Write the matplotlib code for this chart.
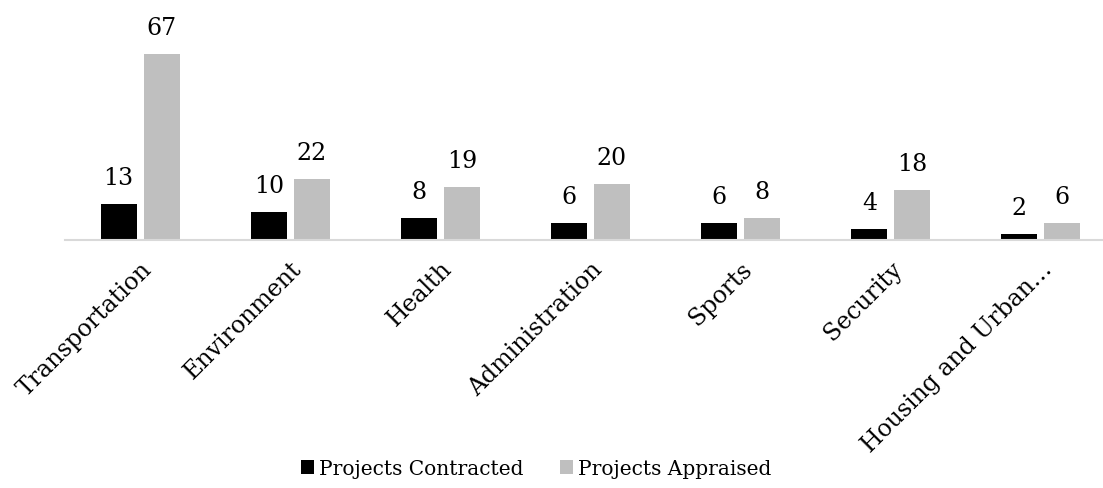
import matplotlib
matplotlib.use("Agg")
import matplotlib.pyplot as plt
import numpy as np

categories = ["Transportation", "Environment", "Health", "Administration",
              "Sports", "Security", "Housing and Urban\u2026"]
contracted = [13, 10, 8, 6, 6, 4, 2]
appraised = [67, 22, 19, 20, 8, 18, 6]

BLACK = "#000000"
GREY = "#bfbfbf"
plt.rcParams["font.family"] = ["DejaVu Serif"]

fig = plt.figure(figsize=(11.03, 4.89), dpi=100)
# plot area runs a little past the right edge, as in the source chart
ax = fig.add_axes([65 / 1103, 1 - 241 / 489, 1051 / 1103, 208.5 / 489])

x = np.arange(len(categories))
w = 0.24
off = 0.143
b1 = ax.bar(x - off, contracted, w, color=BLACK, label="Projects Contracted")
b2 = ax.bar(x + off, appraised, w, color=GREY, label="Projects Appraised")
for bars, vals in ((b1, contracted), (b2, appraised)):
    for r, v in zip(bars, vals):
        ax.text(r.get_x() + r.get_width() / 2, v + 5.4, str(v),
                ha="center", va="bottom", fontsize=17)

ax.set_xlim(-0.5, len(categories) - 0.5)
ax.set_ylim(0, 75)
ax.set_yticks([])
for s in ("top", "right", "left"):
    ax.spines[s].set_visible(False)
ax.spines["bottom"].set_color("#d9d9d9")
ax.spines["bottom"].set_linewidth(1.5)
ax.tick_params(axis="x", length=0, pad=12)
ax.set_xticks(x)
ax.set_xticklabels(categories, rotation=45, ha="right", rotation_mode="anchor",
                   fontsize=17)

fig.legend(handles=[b1, b2], loc="center", ncol=2, frameon=False,
           fontsize=14.5, bbox_to_anchor=(0.486, 0.04), handlelength=0.65,
           handleheight=0.65, handletextpad=0.25, columnspacing=1.8)

fig.savefig("out.png", dpi=100)
